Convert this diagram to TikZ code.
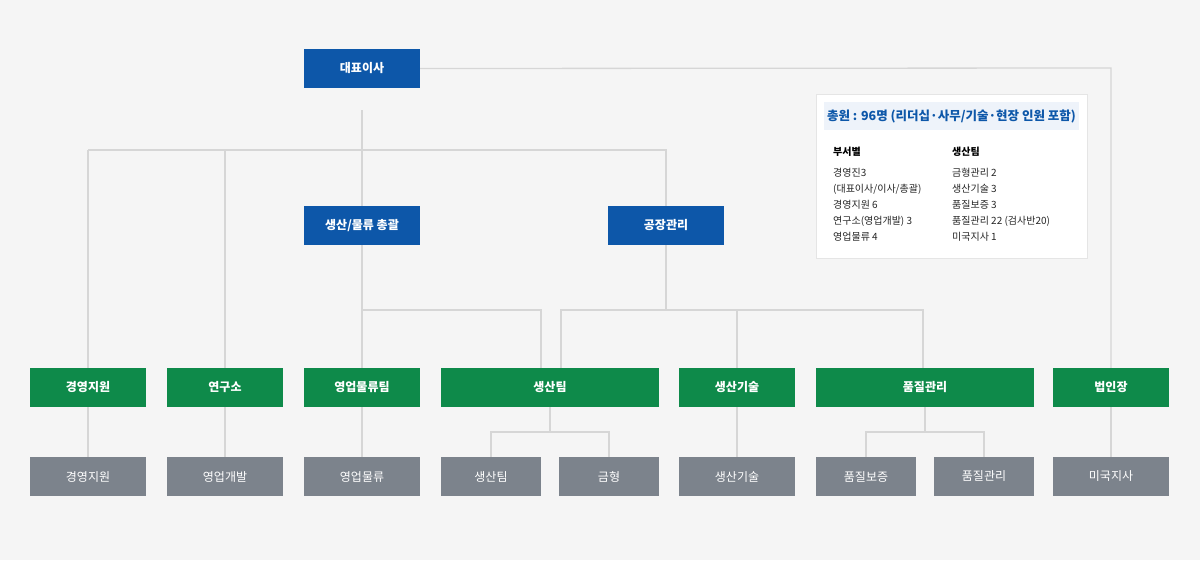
\documentclass[tikz,border=0pt]{standalone}
\usepackage{fontspec}
\setmainfont{Noto Sans CJK KR}
\definecolor{blueC}{HTML}{0D57A9}
\definecolor{greenC}{HTML}{0E8A4A}
\definecolor{grayC}{HTML}{7C838C}
\definecolor{lineC}{HTML}{D6D6D6}
\definecolor{bg}{HTML}{F5F5F5}
\definecolor{hdC}{HTML}{EEF3FA}
\definecolor{hdT}{HTML}{0D57A9}
\begin{document}
\begin{tikzpicture}[x=1pt,y=-1pt,
 bx/.style={draw=none,minimum height=39pt,inner sep=0pt,text=white,font=\fontsize{12}{14}\selectfont\bfseries},
 blue/.style={bx,fill=blueC,minimum width=116pt},
 green/.style={bx,fill=greenC,minimum width=116pt},
 gray/.style={bx,fill=grayC,minimum width=116pt,font=\fontsize{12}{14}\selectfont},
 ln/.style={draw=lineC,line width=1.3pt},
 info/.style={anchor=west,inner sep=0pt,font=\fontsize{10}{12}\selectfont,text=black!85},
 infoh/.style={info,font=\fontsize{10}{12}\selectfont\bfseries,text=black}]
\fill[bg] (0,0) rectangle (1200,560);
\useasboundingbox (0,0) rectangle (1200,560);
\coordinate (t) at (362,110);
\coordinate (hL) at (88,150); \coordinate (hR) at (666,150);
\coordinate (c1) at (225,150);
\coordinate (p1) at (362,310); \coordinate (p2) at (541,310);
\coordinate (f0) at (666,310); \coordinate (f1) at (561,310); \coordinate (f2) at (737,310); \coordinate (f3) at (923,310);
\coordinate (ra) at (1111,68);
\coordinate (s0) at (550,432); \coordinate (s1) at (491,432); \coordinate (s2) at (609,432);
\coordinate (q0) at (925,432); \coordinate (q1) at (866,432); \coordinate (q2) at (984,432);
\node[blue] (ceo) at (362,68.5) {대표이사};
\node[blue] (gen) at (362,225.5) {생산/물류 총괄};
\node[blue] (fac) at (666,225.5) {공장관리};
\node[green] (g1) at (88,387.5) {경영지원};
\node[green] (g2) at (225,387.5) {연구소};
\node[green] (g3) at (362,387.5) {영업물류팀};
\node[green,minimum width=218pt] (g4) at (550,387.5) {생산팀};
\node[green] (g5) at (737,387.5) {생산기술};
\node[green,minimum width=218pt] (g6) at (925,387.5) {품질관리};
\node[green] (g7) at (1111,387.5) {법인장};
\node[gray] (k1) at (88,476.5) {경영지원};
\node[gray] (k2) at (225,476.5) {영업개발};
\node[gray] (k3) at (362,476.5) {영업물류};
\node[gray,minimum width=100pt] (k4) at (491,476.5) {생산팀};
\node[gray,minimum width=100pt] (k5) at (609,476.5) {금형};
\node[gray] (k6) at (737,476.5) {생산기술};
\node[gray,minimum width=100pt] (k7) at (866,476.5) {품질보증};
\node[gray,minimum width=100pt] (k8) at (984,476.5) {품질관리};
\node[gray] (k9) at (1111,476.5) {미국지사};
\begin{scope}[on background layer/.style={}]
\draw[ln] (ceo.east) -- (ra) -- (g7.north);
\draw[ln] (t) -- (gen.north);
\draw[ln] (hL) -- (hR) -- (fac.north);
\draw[ln] (hL) -- (g1.north);
\draw[ln] (c1) -- (g2.north);
\draw[ln] (gen.south) -- (g3.north);
\draw[ln] (p1) -- (p2) -- (p2 |- g4.north);
\draw[ln] (fac.south) -- (f0);
\draw[ln] (f1 |- g4.north) -- (f1) -- (f3) -- (f3 |- g6.north);
\draw[ln] (f2) -- (g5.north);
\draw[ln] (g1.south) -- (k1.north); \draw[ln] (g2.south) -- (k2.north); \draw[ln] (g3.south) -- (k3.north);
\draw[ln] (g5.south) -- (k6.north); \draw[ln] (g7.south) -- (k9.north);
\draw[ln] (g4.south) -- (s0); \draw[ln] (k4.north) -- (s1) -- (s2) -- (k5.north);
\draw[ln] (g6.south) -- (q0); \draw[ln] (k7.north) -- (q1) -- (q2) -- (k8.north);
\end{scope}
\node[draw=black!10,fill=white,line width=0.8pt,minimum width=271pt,minimum height=164pt,inner sep=0pt] (box) at (951.5,176) {};
\node[fill=hdC,minimum width=255pt,minimum height=28pt,inner sep=0pt,text=hdT,font=\fontsize{12.5}{14}\selectfont\bfseries] (hd) at (951.5,116) {총원 : 96명 (리더십·사무/기술·현장 인원 포함)};
\node[infoh] (a0) at (833,152) {부서별};
\node[info] (a1) at (833,173) {경영진3};
\node[info] (a2) at (833,189) {(대표이사/이사/총괄)};
\node[info] (a3) at (833,205) {경영지원 6};
\node[info] (a4) at (833,221) {연구소(영업개발) 3};
\node[info] (a5) at (833,237) {영업물류 4};
\node[infoh] (b0) at (952,152) {생산팀};
\node[info] (b1) at (952,173) {금형관리 2};
\node[info] (b2) at (952,189) {생산기술 3};
\node[info] (b3) at (952,205) {품질보증 3};
\node[info] (b4) at (952,221) {품질관리 22 (검사반20)};
\node[info] (b5) at (952,237) {미국지사 1};
\end{tikzpicture}
\end{document}
